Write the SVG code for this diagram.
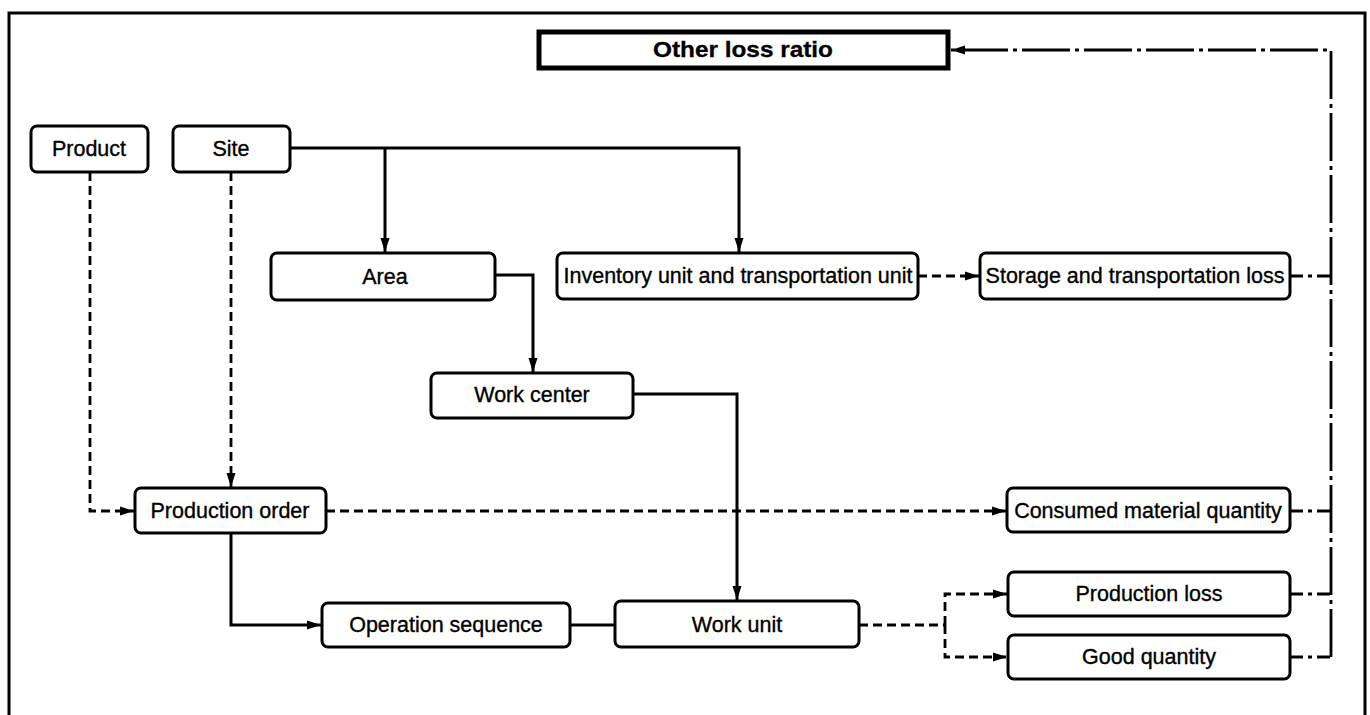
<svg xmlns="http://www.w3.org/2000/svg" width="1370" height="715" viewBox="0 0 1370 715">
<style>
.box{fill:#fff;stroke:#000;stroke-width:3}
.t{font-family:"Liberation Sans",Arial,sans-serif;font-size:21.5px;fill:#000;stroke:#000;stroke-width:0.35;text-anchor:middle}
.b{font-weight:bold;font-size:22px;stroke-width:0.3}
.c{fill:none;stroke:#000;stroke-width:3}
.d{fill:none;stroke:#000;stroke-width:2.8;stroke-dasharray:9 5}
.dd{fill:none;stroke:#000;stroke-width:2.8;stroke-dasharray:48 5 4 5}
.ds{fill:none;stroke:#000;stroke-width:2.8;stroke-dasharray:13 5 4 5}
</style>
<defs>
<marker id="a" markerUnits="userSpaceOnUse" markerWidth="15" markerHeight="12" refX="14" refY="6" orient="auto">
<path d="M0,1.5 L14,6 L0,10.5 Z" fill="#000"/>
</marker>
</defs>
<rect x="0" y="0" width="1370" height="715" fill="#fff"/>
<rect x="9" y="13" width="1356" height="720" fill="none" stroke="#000" stroke-width="3"/>
<g id="connectors">
<path class="c" d="M290,148 H739 V252" marker-end="url(#a)"/>
<path class="c" d="M385,148 V252" marker-end="url(#a)"/>
<path class="d" d="M918,276 H979" marker-end="url(#a)"/>
<path class="c" d="M495,275 H533 V372" marker-end="url(#a)"/>
<path class="c" d="M633,394 H737 V600" marker-end="url(#a)"/>
<path class="d" d="M90,172 V511 H134" marker-end="url(#a)"/>
<path class="d" d="M231,172 V487" marker-end="url(#a)"/>
<path class="d" d="M326,511 H1006" marker-end="url(#a)"/>
<path class="c" d="M231,533 V625 H321" marker-end="url(#a)"/>
<path class="c" d="M570,625 H615"/>
<path class="d" d="M859,625 H945"/>
<path class="d" d="M945,625 V594 H1007" marker-end="url(#a)"/>
<path class="d" d="M945,625 V657 H1007" marker-end="url(#a)"/>
<path class="ds" d="M1290,276 H1331"/>
<path class="ds" d="M1290,511 H1331"/>
<path class="ds" d="M1290,594 H1331"/>
<path class="ds" d="M1290,657 H1331"/>
<path class="dd" d="M1331,657 V50 H951" marker-end="url(#a)"/>
</g>
<g id="other-loss-ratio">
<rect x="539" y="32" width="409" height="36" fill="#fff" stroke="#000" stroke-width="5"/>
<text class="t b" x="743" y="57" textLength="180" lengthAdjust="spacingAndGlyphs">Other loss ratio</text>
</g>
<g id="product">
<rect class="box" x="31" y="126" width="117" height="46" rx="6"/>
<text class="t" x="89" y="156">Product</text>
</g>
<g id="site">
<rect class="box" x="173" y="126" width="117" height="46" rx="6"/>
<text class="t" x="231" y="156">Site</text>
</g>
<g id="area">
<rect class="box" x="271" y="253" width="224" height="47" rx="6"/>
<text class="t" x="385" y="284">Area</text>
</g>
<g id="inventory-unit">
<rect class="box" x="557" y="253" width="361" height="46" rx="6"/>
<text class="t" x="738" y="283">Inventory unit and transportation unit</text>
</g>
<g id="storage-loss">
<rect class="box" x="980" y="253" width="310" height="46" rx="6"/>
<text class="t" x="1135" y="283">Storage and transportation loss</text>
</g>
<g id="work-center">
<rect class="box" x="431" y="373" width="202" height="45" rx="6"/>
<text class="t" x="532" y="402">Work center</text>
</g>
<g id="production-order">
<rect class="box" x="135" y="488" width="191" height="45" rx="6"/>
<text class="t" x="230" y="518">Production order</text>
</g>
<g id="consumed-material">
<rect class="box" x="1007" y="488" width="283" height="44" rx="6"/>
<text class="t" x="1148" y="518">Consumed material quantity</text>
</g>
<g id="operation-sequence">
<rect class="box" x="322" y="603" width="248" height="44" rx="6"/>
<text class="t" x="446" y="632">Operation sequence</text>
</g>
<g id="work-unit">
<rect class="box" x="615" y="601" width="244" height="46" rx="6"/>
<text class="t" x="737" y="632">Work unit</text>
</g>
<g id="production-loss">
<rect class="box" x="1008" y="572" width="282" height="44" rx="6"/>
<text class="t" x="1149" y="601">Production loss</text>
</g>
<g id="good-quantity">
<rect class="box" x="1008" y="635" width="282" height="44" rx="6"/>
<text class="t" x="1149" y="664">Good quantity</text>
</g>
</svg>
